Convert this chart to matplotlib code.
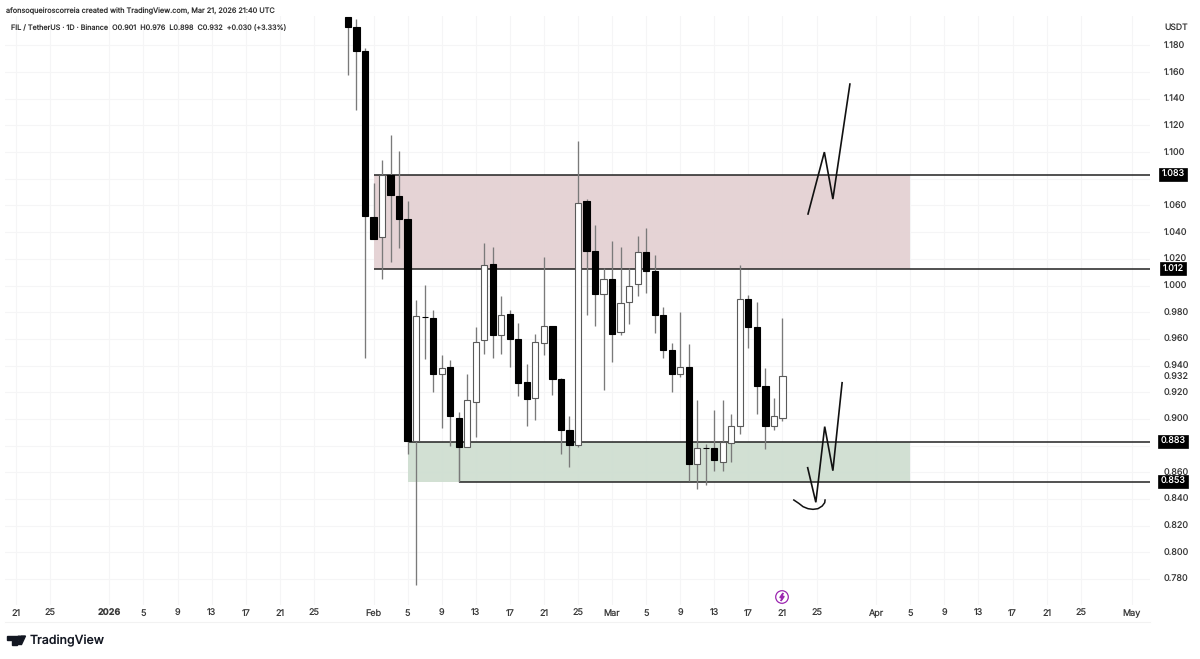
#!/usr/bin/env python3
"""
FIL / USDT daily candles with supply and demand zones
"""

import matplotlib
matplotlib.use('Agg')
import matplotlib.pyplot as plt
import matplotlib.dates as mdates
from matplotlib.patches import Circle, Polygon
import pandas as pd

plt.rcParams['font.family'] = ['Inter', 'DejaVu Sans']
plt.rcParams['text.hinting'] = 'none'

# Daily candles, first one is Jan 29 2026
first_date = '2026-01-29'
opens = [1.2015, 1.1935, 1.176, 1.051, 1.036, 1.083, 1.067, 1.050, 0.8834, 0.9766,
         0.976, 0.934, 0.939, 0.901, 0.879, 0.913, 0.959, 1.016, 0.963, 0.979,
         0.960, 0.928, 0.916, 0.957, 0.970, 0.930, 0.8915, 0.8804, 1.063, 1.026,
         0.994, 1.005, 0.965, 0.988, 1.001, 1.025, 1.011, 0.978, 0.952, 0.934,
         0.939, 0.866, 0.8785, 0.8784, 0.868, 0.882, 0.895, 0.990, 0.969, 0.925,
         0.895, 0.901]
highs = [1.2015, 1.1998, 1.178, 1.077, 1.094, 1.113, 1.101, 1.063, 0.989, 1.0004,
         0.982, 0.948, 0.944, 0.9054, 0.9334, 0.969, 1.032, 1.029, 0.992, 0.982,
         0.972, 0.941, 0.964, 1.021, 0.970, 0.931, 0.902, 1.108, 1.065, 1.045,
         1.013, 1.033, 1.029, 1.013, 1.037, 1.043, 1.023, 0.984, 0.957, 0.980,
         0.956, 0.914, 0.881, 0.9067, 0.914, 0.9034, 1.015, 0.993, 0.9874, 0.938,
         0.916, 0.976]
lows = [1.158, 1.1316, 0.9454, 1.035, 1.0046, 1.0174, 1.0283, 0.8735, 0.7755, 0.9447,
        0.920, 0.8934, 0.8797, 0.853, 0.879, 0.8867, 0.9484, 0.9454, 0.9484, 0.939,
        0.9174, 0.8947, 0.899, 0.948, 0.918, 0.874, 0.8637, 0.8787, 0.978, 0.970,
        0.922, 0.9424, 0.963, 0.971, 0.992, 0.9946, 0.9646, 0.9454, 0.920, 0.9316,
        0.8537, 0.8477, 0.8507, 0.861, 0.861, 0.868, 0.8885, 0.9534, 0.9034, 0.8777,
        0.8917, 0.8987]
closes = [1.194, 1.176, 1.052, 1.035, 1.083, 1.068, 1.050, 0.8834, 0.977, 0.9762,
          0.934, 0.938, 0.902, 0.879, 0.914, 0.958, 1.015, 0.963, 0.978, 0.960,
          0.927, 0.915, 0.958, 0.970, 0.930, 0.8915, 0.8804, 1.062, 1.026, 0.994,
          1.005, 0.964, 0.987, 1.000, 1.025, 1.011, 0.978, 0.952, 0.934, 0.939,
          0.866, 0.8784, 0.878, 0.869, 0.883, 0.895, 0.990, 0.969, 0.925, 0.895,
          0.902, 0.932]

# Zones: start date, end date, top price, bottom price
red_zone = ('2026-02-01', '2026-04-05', 1.083, 1.012)
green_zone = ('2026-02-05', '2026-04-05', 0.883, 0.853)

# Horizontal levels: start date, price
level_dates = ['2026-02-01', '2026-02-01', '2026-02-05', '2026-02-11']
level_prices = [1.083, 1.012, 0.883, 0.853]

# Hand drawn paths
upper_path_dates = ['2026-03-24', '2026-03-25 22:00', '2026-03-26 22:00', '2026-03-28 22:00']
upper_path_prices = [1.0536, 1.100, 1.0648, 1.151]
lower_path_dates = ['2026-03-23 23:00', '2026-03-24 22:00', '2026-03-25 23:00', '2026-03-26 22:00', '2026-03-28']
lower_path_prices = [0.8634, 0.8375, 0.8942, 0.8612, 0.9271]
smile_dates = ['2026-03-22 08:00', '2026-03-22 22:00', '2026-03-23 10:00', '2026-03-24 00:00', '2026-03-24 14:00',
               '2026-03-25 04:00', '2026-03-25 16:00', '2026-03-25 23:00', '2026-03-26 00:00']
smile_prices = [0.8392, 0.8367, 0.8342, 0.8327, 0.8322, 0.8327, 0.8347, 0.8372, 0.8392]

# Axis ticks
price_ticks = [0.78, 0.80, 0.82, 0.84, 0.86, 0.88, 0.90, 0.92, 0.932, 0.94, 0.96, 0.98,
               1.00, 1.02, 1.04, 1.06, 1.08, 1.10, 1.12, 1.14, 1.16, 1.18]
date_ticks = ['2025-12-21', '2025-12-25', '2026-01-01', '2026-01-05', '2026-01-09', '2026-01-13',
              '2026-01-17', '2026-01-21', '2026-01-25', '2026-02-01', '2026-02-05', '2026-02-09',
              '2026-02-13', '2026-02-17', '2026-02-21', '2026-02-25', '2026-03-01', '2026-03-05',
              '2026-03-09', '2026-03-13', '2026-03-17', '2026-03-21', '2026-03-25', '2026-04-01',
              '2026-04-05', '2026-04-09', '2026-04-13', '2026-04-17', '2026-04-21', '2026-04-25',
              '2026-05-01']
date_labels = ['21', '25', '2026', '5', '9', '13', '17', '21', '25', 'Feb', '5', '9', '13', '17',
               '21', '25', 'Mar', '5', '9', '13', '17', '21', '25', 'Apr', '5', '9', '13', '17',
               '21', '25', 'May']

WIDTH, HEIGHT = 1200, 659
LEFT, RIGHT, TOP, BOTTOM = 5, 1150, 16, 605
DAY_PX = 8.52
FEB1_PX = 373.5
PRICE_PX = 1334.0
PRICE1_PX = 285.5


def to_num(value):
    return mdates.date2num(pd.Timestamp(value))


def draw_candles(ax):
    dates = pd.date_range(first_date, periods=len(opens))
    xs = mdates.date2num(dates)
    body_width = 6.2 / DAY_PX
    for x, o, h, l, c in zip(xs, opens, highs, lows, closes):
        ax.vlines(x, l, h, color='#7a7a7a', linewidth=0.95, zorder=4)
        up = c >= o
        ax.bar(x, abs(c - o), bottom=min(o, c), width=body_width,
               color='white' if up else 'black',
               edgecolor='#5a5a5a' if up else 'black', linewidth=0.8, zorder=5)


def draw_zones(ax):
    for zone, color in ((red_zone, '#e4d2d4'), (green_zone, '#d0dfd2')):
        ax.fill_between([to_num(zone[0]), to_num(zone[1])], zone[3], zone[2],
                        color=color, linewidth=0, alpha=0.96, zorder=2)
    end = to_num('2026-02-01') + (1159 - FEB1_PX) / DAY_PX
    for start, price in zip(level_dates, level_prices):
        ax.hlines(price, to_num(start), end, color='#222222', linewidth=1.1, zorder=3)
        ax.annotate(f'{price:.3f}', xy=(1173 / WIDTH, price + 0.0004), xycoords=('figure fraction', 'data'),
                    ha='center', va='center', color='white', fontsize=6.5, zorder=10,
                    annotation_clip=False,
                    bbox=dict(boxstyle='square,pad=0.24', facecolor='black', edgecolor='black', linewidth=0.5))
    # short tail joining the lowest level up to the candle
    ax.vlines(to_num(level_dates[3]), level_prices[3], closes[13], color='#222222', linewidth=0.8, zorder=3)


def draw_paths(ax):
    for xs, ys, width in ((upper_path_dates, upper_path_prices, 1.2),
                          (lower_path_dates, lower_path_prices, 1.2),
                          (smile_dates, smile_prices, 1.1)):
        ax.plot([to_num(x) for x in xs], ys, color='#111111', linewidth=width,
                solid_joinstyle='miter', zorder=6)


def draw_extras(fig):
    # Header and footer text
    fig.text(6 / WIDTH, 1 - 11 / HEIGHT, 'afonsoqueiroscorreia created with TradingView.com, Mar 21, 2026 21:40 UTC',
             fontsize=5.25, color='#333333', va='center')
    fig.text(11 / WIDTH, 1 - 27.5 / HEIGHT, 'FIL / TetherUS · 1D · Binance  O0.901  H0.976  L0.898  C0.932  +0.030 (+3.33%)',
             fontsize=5.2, color='#333333', va='center')
    fig.text(1176 / WIDTH, 1 - 27.5 / HEIGHT, 'USDT', fontsize=6.2, color='#333333', va='center', ha='center')
    fig.text(30 / WIDTH, 1 - 641 / HEIGHT, 'TradingView', fontsize=8.9, fontweight='medium', color='#131722', va='center')

    # TradingView logo, in figure pixels
    overlay = fig.add_axes([0, 0, 1, 1], facecolor='none')
    overlay.set_xlim(0, WIDTH)
    overlay.set_ylim(HEIGHT, 0)
    overlay.axis('off')
    overlay.add_patch(Polygon([(7, 636), (16.5, 636), (16.5, 644.5), (12, 644.5), (12, 640), (7, 640)], color='#131722'))
    overlay.add_patch(Circle((19, 638), 1.9, color='#131722'))
    overlay.add_patch(Polygon([(21, 636), (25.5, 636), (21.5, 644.5), (17, 644.5)], color='#131722'))

    # Lightning badge on the time axis
    overlay.add_patch(Circle((782, 597), 6.3, facecolor='white', edgecolor='#9c27b0', linewidth=0.9))
    overlay.add_patch(Polygon([(783, 593), (779.8, 597.6), (781.8, 597.6), (781, 601), (784.2, 596.4), (782.2, 596.4)],
                              color='#9c27b0'))
    overlay.plot([LEFT, RIGHT], [622, 622], color='#f2f2f2', linewidth=0.8)


def main():
    fig = plt.figure(figsize=(WIDTH / 100, HEIGHT / 100), dpi=100)
    ax = fig.add_axes([LEFT / WIDTH, 1 - BOTTOM / HEIGHT, (RIGHT - LEFT) / WIDTH, (BOTTOM - TOP) / HEIGHT])

    feb1 = to_num('2026-02-01')
    ax.set_xlim(feb1 + (LEFT - FEB1_PX) / DAY_PX, feb1 + (RIGHT - FEB1_PX) / DAY_PX)
    ax.set_ylim(1 + (PRICE1_PX - BOTTOM) / PRICE_PX, 1 + (PRICE1_PX - TOP) / PRICE_PX)

    ax.yaxis.tick_right()
    ax.set_yticks(price_ticks)
    ax.set_yticklabels([f'{p:.3f}' for p in price_ticks])
    ax.set_xticks([to_num(d) for d in date_ticks])
    ax.set_xticklabels(date_labels)
    ax.tick_params(axis='both', length=0, labelsize=6.5, labelcolor='#3a3a3a')
    ax.tick_params(axis='y', pad=10)
    ax.tick_params(axis='x', pad=3)
    for label, text in zip(ax.get_xticklabels(), date_labels):
        if text == '2026':
            label.set_fontweight('bold')

    ax.grid(True, color='#f5f5f6', linewidth=0.8, zorder=0)
    ax.set_axisbelow(True)
    for gridline, price in zip(ax.get_ygridlines(), price_ticks):
        if price == 0.932:
            gridline.set_visible(False)
    for spine in ax.spines.values():
        spine.set_visible(False)

    draw_zones(ax)
    draw_candles(ax)
    draw_paths(ax)
    draw_extras(fig)

    fig.savefig('out.png', dpi=100)


if __name__ == "__main__":
    main()
